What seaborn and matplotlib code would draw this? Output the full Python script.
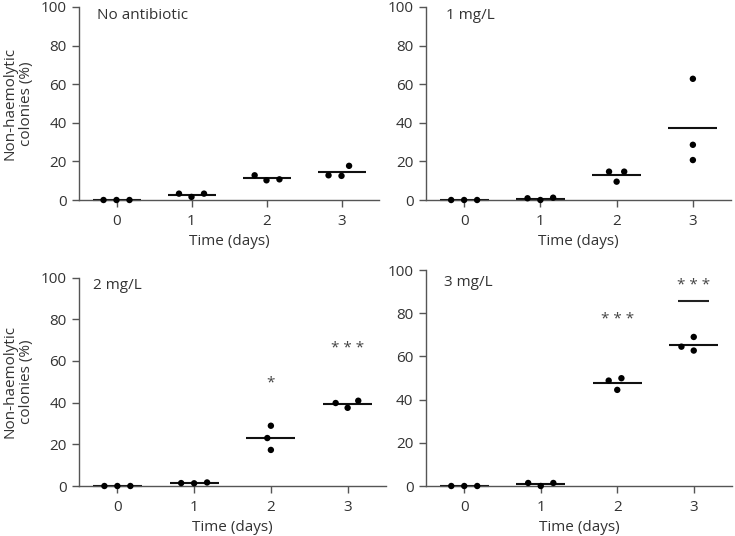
import numpy as np
import pandas as pd
import matplotlib
matplotlib.use("Agg")
import matplotlib.pyplot as plt
import seaborn as sns

# === Data (3 replicates per day) ===
days = [0, 1, 2, 3]
panels = ["No antibiotic", "1 mg/L", "2 mg/L", "3 mg/L"]

no_antibiotic = [[0, 0, 0], [3.3, 1.6, 3.3], [12.8, 10.2, 10.7], [17.7, 12.5, 12.8]]
mg_1 = [[0, 0, 0], [1.2, 0.0, 0.9], [14.7, 9.5, 14.7], [62.8, 28.6, 20.7]]
mg_2 = [[0, 0, 0], [1.7, 1.4, 1.3], [28.9, 17.3, 23.0], [40.9, 37.5, 39.8]]
mg_3 = [[0, 0, 0], [1.4, 0.0, 1.4], [49.9, 44.5, 48.8], [62.7, 69.0, 64.5]]

# significance marks: (panel, day, label, y)
stars = [("2 mg/L", 2, "*", 49.5), ("2 mg/L", 3, "* * *", 66),
         ("3 mg/L", 2, "* * *", 77.3), ("3 mg/L", 3, "* * *", 92.6)]
extra_bar = ("3 mg/L", 3, 85.5)

rows = []
for name, vals in zip(panels, [no_antibiotic, mg_1, mg_2, mg_3]):
    for d, reps in zip(days, vals):
        for v in reps:
            rows.append({"panel": name, "day": d, "value": v})
df = pd.DataFrame(rows)

# === Style ===
sns.set_style("ticks")
plt.rcParams["font.family"] = ["Open Sans", "DejaVu Sans"]
text_col = "#333333"
spine_col = "#555555"
fs = 11

fig = plt.figure(figsize=(7.35, 5.36), dpi=100)
W, H = 735, 536
boxes = {  # left, right, top(y=100), bottom(y=0) in pixels
    "No antibiotic": (79, 379, 7, 200),
    "1 mg/L": (426, 731, 7, 200),
    "2 mg/L": (79, 386, 277.5, 486),
    "3 mg/L": (426, 732, 270, 486),
}
label_pos = {"No antibiotic": (0.06, 0.955), "1 mg/L": (0.066, 0.955),
             "2 mg/L": (0.046, 0.96), "3 mg/L": (0.059, 0.94)}

for name in panels:
    l, r, t, b = boxes[name]
    ax = fig.add_axes([l / W, 1 - b / H, (r - l) / W, (b - t) / H])
    sub = df[df["panel"] == name]

    sns.swarmplot(data=sub, x="day", y="value", order=days, ax=ax,
                  color="black", size=4.6, linewidth=4.3, edgecolor="none",
                  clip_on=False, zorder=3)

    means = sub.groupby("day")["value"].mean()
    for i, d in enumerate(days):
        ax.hlines(means[d], i - 0.32, i + 0.32, color="#111111", lw=1.5,
                  zorder=2, clip_on=False)

    for p, d, lab, y in stars:
        if p == name:
            ax.text(days.index(d), y, lab, ha="center", va="center",
                    fontsize=fs, color="#444444")
    if extra_bar[0] == name:
        i = days.index(extra_bar[1])
        ax.hlines(extra_bar[2], i - 0.2, i + 0.2, color="#222222", lw=1.5)

    ax.set_xlim(-0.5, 3.5)
    ax.set_ylim(0, 100)
    ax.set_yticks([0, 20, 40, 60, 80, 100])
    ax.set_xticks(range(len(days)))
    ax.set_xticklabels([str(d) for d in days])
    ax.tick_params(colors=spine_col, labelcolor=text_col, labelsize=fs,
                   length=5, width=1)
    ax.tick_params(axis="y", pad=4)
    ax.tick_params(axis="x", pad=5)
    for s in ["top", "right"]:
        ax.spines[s].set_visible(False)
    for s in ["left", "bottom"]:
        ax.spines[s].set_color(spine_col)
        ax.spines[s].set_linewidth(1)

    ax.set_xlabel("Time (days)", fontsize=fs, color=text_col, labelpad=4)
    if name in ("No antibiotic", "2 mg/L"):
        ax.set_ylabel("Non-haemolytic\ncolonies (%)", fontsize=fs,
                      color=text_col, labelpad=5, linespacing=1.1)
    else:
        ax.set_ylabel("")

    lx, ly = label_pos[name]
    ax.text(lx, ly, name, transform=ax.transAxes, ha="left", va="center",
            fontsize=fs, color=text_col)

fig.savefig("out.png", dpi=100)
